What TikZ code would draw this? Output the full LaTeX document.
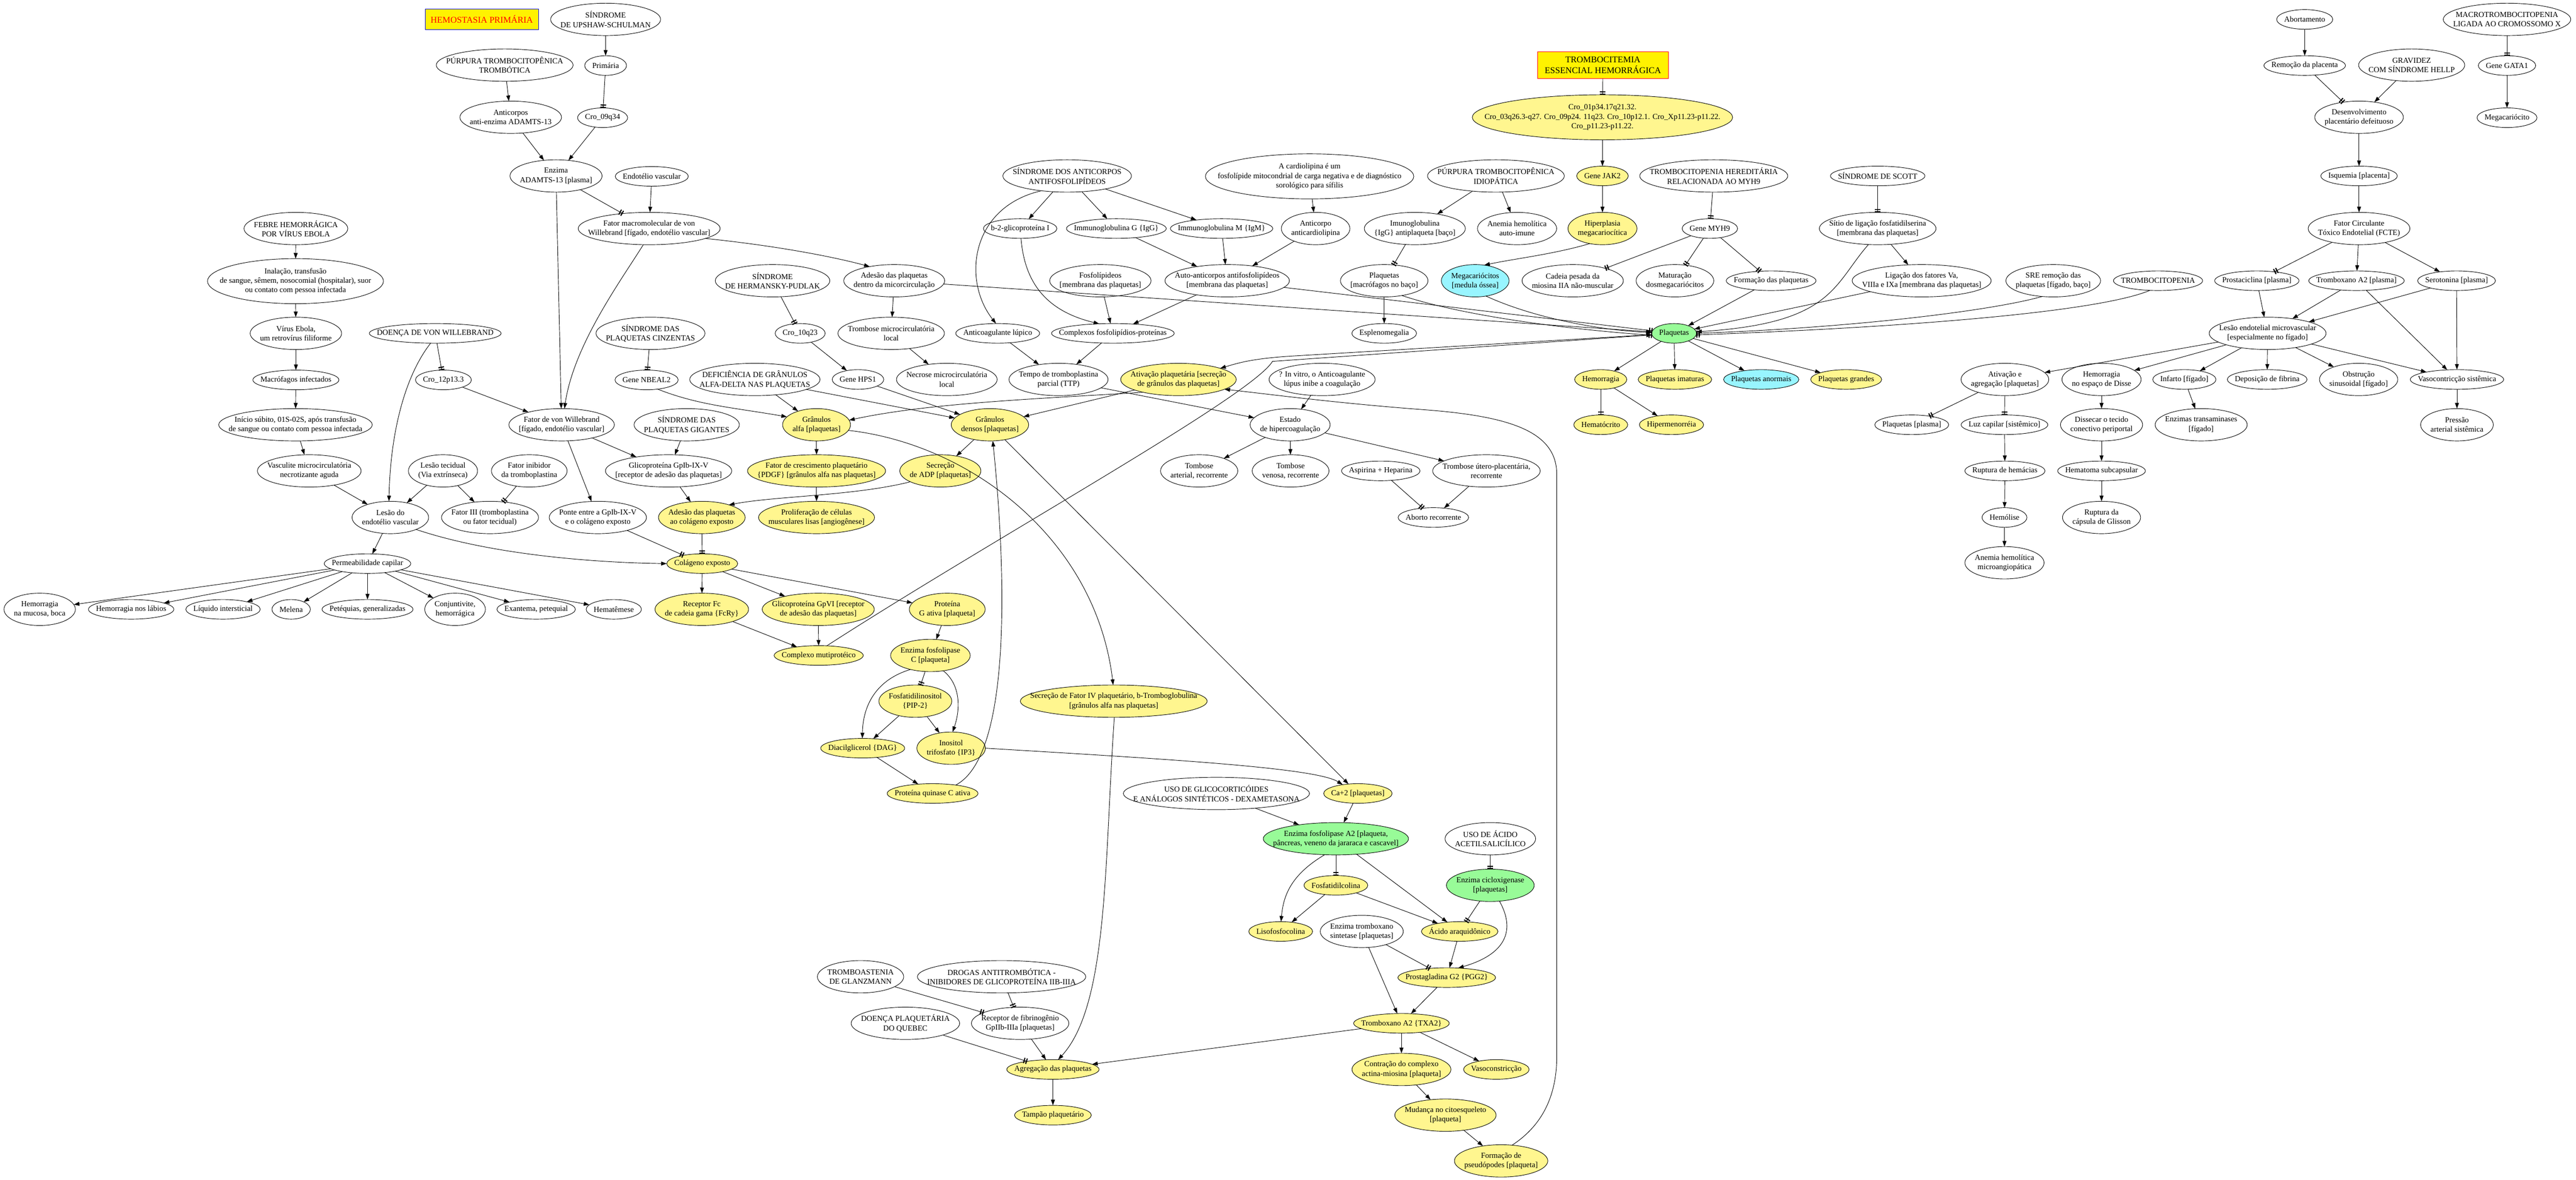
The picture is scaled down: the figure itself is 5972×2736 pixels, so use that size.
\documentclass[tikz,border=0pt]{standalone}
\usepackage{fontspec}
\setmainfont{Liberation Serif}
\usetikzlibrary{shapes.geometric,arrows.meta}
\definecolor{ylw}{HTML}{FFF68F}
\definecolor{grn}{HTML}{98FB98}
\definecolor{cyn}{HTML}{98F5FF}
\newcommand\Nd[4][]{%
  \node[txt] (#2-t) at (#3) {#4};%
  \pgfpointdiff{\pgfpointanchor{#2-t}{south west}}{\pgfpointanchor{#2-t}{north east}}%
  \pgfgetlastxy{\tw}{\th}%
  \pgfmathsetmacro\nlm{max(1,round(\th/21.7))}%
  \node[nd,#1,minimum width={\tw+24pt+11pt*\nlm},minimum height={16pt+29.5pt*\nlm}] (#2) at (#3) {};%
  \node[txt] at (#3) {#4};}
\begin{document}
\begin{tikzpicture}[x=1pt,y=-1pt,
 txt/.style={align=center,inner sep=0pt,outer sep=0pt,font=\fontsize{18}{21.7}\selectfont},
 nd/.style={ellipse,draw,fill=white,line width=1.1pt,inner sep=0pt,outer sep=0pt},
 fy/.style={fill=ylw}, fg/.style={fill=grn}, fc/.style={fill=cyn},
 ar/.style={line width=1.1pt,-{Triangle[length=13pt,width=9pt]}},
 tt/.style={line width=1.1pt,-{Rectangle[length=2.5pt,width=13pt]Rectangle[length=3pt,width=1.1pt]Rectangle[length=2.5pt,width=13pt]}}]
\useasboundingbox[fill=white] (0,0) rectangle (5972,2736);
% ---------- title boxes
\node[draw=blue,fill=yellow,text=red,line width=1.1pt,minimum width=263pt,minimum height=48pt,inner sep=0pt,font=\fontsize{20.6}{24.7}\selectfont] (tit1) at (1117,45) {HEMOSTASIA PRIMÁRIA};
\node[draw=red,fill=yellow,line width=1.1pt,minimum width=303pt,minimum height=62pt,inner sep=0pt,align=center,font=\fontsize{20.6}{24.7}\selectfont] (tit2) at (3716,151) {TROMBOCITEMIA\\ESSENCIAL HEMORRÁGICA};
% ---------- left part
\Nd{ups}{1404,45}{SÍNDROME\\DE UPSHAW-SCHULMAN}
\Nd{ptt}{1170,151}{PÚRPURA TROMBOCITOPÊNICA\\TROMBÓTICA}
\Nd{prim}{1404,152}{Primária}
\Nd{antic}{1184,272}{Anticorpos\\anti-enzima ADAMTS-13}
\Nd{c09}{1397,273}{Cro\_09q34}
\Nd{adam}{1289,408}{Enzima\\ADAMTS-13 [plasma]}
\Nd{endv}{1511,409}{Endotélio vascular}
\Nd{fmac}{1505,530}{Fator macromolecular de von\\Willebrand [fígado, endotélio vascular]}
\Nd{febre}{686,530}{FEBRE HEMORRÁGICA\\POR VÍRUS EBOLA}
\Nd{inal}{685,652}{Inalação, transfusão\\de sangue, sêmem, nosocomial (hospitalar), suor\\ou contato com pessoa infectada}
\Nd{virus}{686,773}{Vírus Ebola,\\um retrovírus filiforme}
\Nd{dvw}{1009,773}{DOENÇA DE VON WILLEBRAND}
\Nd{spc}{1508,773}{SÍNDROME DAS\\PLAQUETAS CINZENTAS}
\Nd{macr}{686,881}{Macrófagos infectados}
\Nd{c12}{1028,881}{Cro\_12p13.3}
\Nd{nbeal}{1499,881}{Gene NBEAL2}
\Nd{inic}{685,985}{Início súbito, 01S-02S, após transfusão\\de sangue ou contato com pessoa infectada}
\Nd{fvw}{1302,985}{Fator de von Willebrand\\{}[fígado, endotélio vascular]}
\Nd{spg}{1592,985}{SÍNDROME DAS\\PLAQUETAS GIGANTES}
\Nd{vasc}{717,1092}{Vasculite microcirculatória\\necrotizante aguda}
\Nd{lest}{1027,1092}{Lesão tecidual\\(Via extrínseca)}
\Nd{finib}{1227,1092}{Fator inibidor\\da tromboplastina}
\Nd{gpib}{1550,1092}{Glicoproteína GpIb-IX-V\\{}[receptor de adesão das plaquetas]}
\Nd{lesend}{905,1200}{Lesão do\\endotélio vascular}
\Nd{f3}{1136,1200}{Fator III (tromboplastina\\ou fator tecidual)}
\Nd{ponte}{1386,1200}{Ponte entre a GpIb-IX-V\\e o colágeno exposto}
\Nd[fy]{adcol}{1627,1200}{Adesão das plaquetas\\ao colágeno exposto}
\Nd[fy]{prolif}{1893,1200}{Proliferação de células\\musculares lisas [angiogênese]}
\Nd{perm}{852,1307}{Permeabilidade capilar}
\Nd[fy]{colag}{1628,1307}{Colágeno exposto}
\Nd{hmuc}{92,1413}{Hemorragia\\na mucosa, boca}
\Nd{hlab}{304,1413}{Hemorragia nos lábios}
\Nd{liq}{517,1413}{Líquido intersticial}
\Nd{mel}{675,1413}{Melena}
\Nd{pet}{852,1413}{Petéquias, generalizadas}
\Nd{conj}{1055,1413}{Conjuntivite,\\hemorrágica}
\Nd{exan}{1243,1413}{Exantema, petequial}
\Nd{hemat}{1423,1413}{Hematêmese}
\Nd[fy]{recfc}{1627,1413}{Receptor Fc\\de cadeia gama \{FcRy\}}
\Nd[fy]{gpvi}{1897,1413}{Glicoproteína GpVI [receptor\\de adesão das plaquetas]}
\Nd[fy]{protg}{2196,1413}{Proteína\\G ativa [plaqueta]}
\Nd[fy]{compl}{1898,1520}{Complexo mutiprotéico}
\Nd[fy]{plc}{2157,1520}{Enzima fosfolipase\\C [plaqueta]}
\Nd[fy]{pip}{2122,1626}{Fosfatidilinositol\\\{PIP-2\}}
\Nd[fy]{sf4}{2582,1626}{Secreção de Fator IV plaquetário, b-Tromboglobulina\\{}[grânulos alfa nas plaquetas]}
\Nd[fy]{dag}{2000,1735}{Diacilglicerol \{DAG\}}
\Nd[fy]{ip3}{2205,1735}{Inositol\\trifosfato \{IP3\}}
\Nd[fy]{pkc}{2162,1840}{Proteína quinase C ativa}
\Nd{gluc}{2820,1840}{USO DE GLICOCORTICÓIDES\\E ANÁLOGOS SINTÉTICOS - DEXAMETASONA}
\Nd[fy]{ca}{3148,1840}{Ca+2 [plaquetas]}
\Nd[fg]{pla2}{3097,1945}{Enzima fosfolipase A2 [plaqueta,\\pâncreas, veneno da jararaca e cascavel]}
\Nd{aas}{3455,1945}{USO DE ÁCIDO\\ACETILSALICÍLICO}
\Nd[fy]{fcol}{3097,2053}{Fosfatidilcolina}
\Nd[fg]{cox}{3455,2053}{Enzima cicloxigenase\\{}[plaquetas]}
\Nd[fy]{liso}{2969,2160}{Lisofosfocolina}
\Nd{txs}{3157,2160}{Enzima tromboxano\\sintetase [plaquetas]}
\Nd[fy]{aa}{3384,2160}{Ácido araquidônico}
\Nd[fy]{pgg}{3354,2267}{Prostagladina G2 \{PGG2\}}
\Nd{glanz}{1995,2265}{TROMBOASTENIA\\DE GLANZMANN}
\Nd{drog}{2322,2265}{DROGAS ANTITROMBÓTICA -\\INIBIDORES DE GLICOPROTEÍNA IIB-IIIA}
\Nd{queb}{2099,2373}{DOENÇA PLAQUETÁRIA\\DO QUEBEC}
\Nd{recfib}{2365,2373}{Receptor de fibrinogênio\\GpIIb-IIIa [plaquetas]}
\Nd[fy]{txa2}{3249,2373}{Tromboxano A2 \{TXA2\}}
\Nd[fy]{agreg}{2441,2480}{Agregação das plaquetas}
\Nd[fy]{contr}{3249,2480}{Contração do complexo\\actina-miosina [plaqueta]}
\Nd[fy]{vasoc}{3469,2480}{Vasoconstricção}
\Nd[fy]{tamp}{2441,2586}{Tampão plaquetário}
\Nd[fy]{mud}{3351,2586}{Mudança no citoesqueleto\\{}[plaqueta]}
\Nd[fy]{pseud}{3480,2692}{Formação de\\pseudópodes [plaqueta]}
% ---------- middle part
\Nd{saaf}{2474,408}{SÍNDROME DOS ANTICORPOS\\ANTIFOSFOLIPÍDEOS}
\Nd{card}{3036,409}{A cardiolipina é um\\fosfolípide mitocondrial de carga negativa e de diagnóstico\\sorológico para sífilis}
\Nd{b2}{2365,530}{b-2-glicoproteína I}
\Nd{igg}{2588,530}{Immunoglobulina G \{IgG\}}
\Nd{igm}{2832,530}{Immunoglobulina M \{IgM\}}
\Nd{acard}{3050,530}{Anticorpo\\anticardiolipina}
\Nd{herm}{1791,651}{SÍNDROME\\DE HERMANSKY-PUDLAK}
\Nd{admic}{2073,651}{Adesão das plaquetas\\dentro da micorcirculação}
\Nd{fosf}{2551,651}{Fosfolípideos\\{}[membrana das plaquetas]}
\Nd{auto}{2845,651}{Auto-anticorpos antifosfolipídeos\\{}[membrana das plaquetas]}
\Nd{c10}{1855,773}{Cro\_10q23}
\Nd{tmic}{2066,773}{Trombose microcirculatória\\local}
\Nd{alup}{2313,773}{Anticoagulante lúpico}
\Nd{cfp}{2580,773}{Complexos fosfolipídios-proteínas}
\Nd{defic}{1750,880}{DEFICIÊNCIA DE GRÂNULOS\\ALFA-DELTA NAS PLAQUETAS}
\Nd{hps1}{1989,880}{Gene HPS1}
\Nd{necr}{2195,880}{Necrose microcirculatória\\local}
\Nd{ttp}{2454,880}{Tempo de tromboplastina\\parcial (TTP)}
\Nd[fy]{ativ}{2732,880}{Ativação plaquetária [secreção\\de grânulos das plaquetas]}
\Nd{invit}{3065,880}{? In vitro, o Anticoagulante\\lúpus inibe a coagulação}
\Nd[fy]{galfa}{1893,985}{Grânulos\\alfa [plaquetas]}
\Nd[fy]{gdens}{2295,985}{Grânulos\\densos [plaquetas]}
\Nd{estado}{2991,985}{Estado\\de hipercoagulação}
\Nd[fy]{pdgf}{1893,1092}{Fator de crescimento plaquetário\\\{PDGF\} [grânulos alfa nas plaquetas]}
\Nd[fy]{adp}{2180,1092}{Secreção\\de ADP [plaquetas]}
\Nd{tart}{2780,1092}{Tombose\\arterial, recorrente}
\Nd{tven}{2992,1092}{Tombose\\venosa, recorrente}
\Nd{asp}{3201,1092}{Aspirina + Heparina}
\Nd{tutero}{3446,1092}{Trombose útero-placentária,\\recorrente}
\Nd{abrec}{3323,1200}{Aborto recorrente}
% ---------- right-middle part
\Nd[fy]{cro01}{3715,272}{Cro\_01p34.17q21.32.\\Cro\_03q26.3-q27. Cro\_09p24. 11q23. Cro\_10p12.1. Cro\_Xp11.23-p11.22.\\Cro\_p11.23-p11.22.}
\Nd{pti}{3468,408}{PÚRPURA TROMBOCITOPÊNICA\\IDIOPÁTICA}
\Nd[fy]{jak2}{3715,408}{Gene JAK2}
\Nd{myh9h}{3973,408}{TROMBOCITOPENIA HEREDITÁRIA\\RELACIONADA AO MYH9}
\Nd{scott}{4353,408}{SÍNDROME DE SCOTT}
\Nd{imig}{3280,530}{Imunoglobulina\\\{IgG\} antiplaqueta [baço]}
\Nd{anem}{3517,530}{Anemia hemolítica\\auto-imune}
\Nd[fy]{hiper}{3715,530}{Hiperplasia\\megacariocítica}
\Nd{myh9}{3964,530}{Gene MYH9}
\Nd{sitio}{4353,530}{Sítio de ligação fosfatidilserina\\{}[membrana das plaquetas]}
\Nd{plmac}{3209,651}{Plaquetas\\{}[macrófagos no baço]}
\Nd[fc]{mega}{3420,651}{Megacariócitos\\{}[medula óssea]}
\Nd{cadeia}{3646,651}{Cadeia pesada da\\miosina IIA não-muscular}
\Nd{matur}{3883,651}{Maturação\\dosmegacariócitos}
\Nd{formp}{4106,651}{Formação das plaquetas}
\Nd{ligf}{4455,651}{Ligação dos fatores Va,\\VIIIa e IXa [membrana das plaquetas]}
\Nd{sre}{4760,651}{SRE remoção das\\plaquetas [fígado, baço]}
\Nd{tcp}{5003,651}{TROMBOCITOPENIA}
\Nd{prost}{5232,651}{Prostaciclina [plasma]}
\Nd{txpl}{5463,651}{Tromboxano A2 [plasma]}
\Nd{sero}{5695,651}{Serotonina [plasma]}
\Nd{espl}{3209,773}{Esplenomegalia}
\Nd[fg]{plaq}{3881,773}{Plaquetas}
\Nd{lesmv}{5257,773}{Lesão endotelial microvascular\\{}[especialmente no fígado]}
\Nd[fy]{hemo}{3711,880}{Hemorragia}
\Nd[fy]{plim}{3883,880}{Plaquetas imaturas}
\Nd[fc]{plan}{4083,880}{Plaquetas anormais}
\Nd[fy]{plgr}{4280,880}{Plaquetas grandes}
\Nd{atag}{4648,880}{Ativação e\\agregação [plaquetas]}
\Nd{hdis}{4872,880}{Hemorragia\\no espaço de Disse}
\Nd{infa}{5064,880}{Infarto [fígado]}
\Nd{depf}{5256,880}{Deposição de fibrina}
\Nd{obst}{5468,880}{Obstrução\\sinusoidal [fígado]}
\Nd{vsis}{5696,880}{Vasocontricção sistêmica}
\Nd[fy]{hct}{3711,985}{Hematócrito}
\Nd[fy]{hipm}{3875,985}{Hipermenorréia}
\Nd{plpl}{4432,985}{Plaquetas [plasma]}
\Nd{luz}{4647,985}{Luz capilar [sistêmico]}
\Nd{diss}{4872,985}{Dissecar o tecido\\conectivo periportal}
\Nd{enzt}{5103,985}{Enzimas transaminases\\{}[fígado]}
\Nd{pres}{5696,985}{Pressão\\arterial sistêmica}
\Nd{rupt}{4648,1092}{Ruptura de hemácias}
\Nd{hemat2}{4872,1092}{Hematoma subcapsular}
\Nd{hemol}{4647,1200}{Hemólise}
\Nd{rcap}{4872,1200}{Ruptura da\\cápsula de Glisson}
\Nd{anmic}{4647,1305}{Anemia hemolítica\\microangiopática}
% ---------- far right
\Nd{abort}{5343,45}{Abortamento}
\Nd{macro}{5812,45}{MACROTROMBOCITOPENIA\\LIGADA AO CROMOSSOMO X}
\Nd{remoc}{5343,152}{Remoção da placenta}
\Nd{grav}{5591,151}{GRAVIDEZ\\COM SÍNDROME HELLP}
\Nd{gata}{5812,152}{Gene GATA1}
\Nd{desenv}{5469,272}{Desenvolvimento\\placentário defeituoso}
\Nd{megac}{5812,273}{Megacariócito}
\Nd{isq}{5469,408}{Isquemia [placenta]}
\Nd{fcte}{5469,530}{Fator Circulante\\Tóxico Endotelial (FCTE)}
% ================= edges
\draw[ar] (ups) -- (prim);
\draw[tt] (prim) -- (c09);
\draw[ar] (ptt) -- (antic);
\draw[ar] (antic) -- (adam);
\draw[ar] (c09) -- (adam);
\draw[tt] (adam) -- (fmac);
\draw[ar] (adam) -- (fvw);
\draw[ar] (endv) -- (fmac);
\draw[ar] (fmac.250) .. controls (1440,650) and (1330,800) .. (fvw.80);
\draw[ar] (fmac.-10) .. controls (1800,570) and (1930,595) .. (admic.150);
\draw[ar] (febre) -- (inal);
\draw[ar] (inal) -- (virus);
\draw[ar] (virus) -- (macr);
\draw[ar] (macr) -- (inic);
\draw[ar] (inic) -- (vasc);
\draw[ar] (vasc) -- (lesend);
\draw[ar] (dvw.245) .. controls (940,870) and (905,1000) .. (lesend.95);
\draw[tt] (dvw) -- (c12);
\draw[ar] (c12) -- (fvw);
\draw[ar] (lest) -- (lesend);
\draw[ar] (lest) -- (f3);
\draw[tt] (finib) -- (f3);
\draw[ar] (fvw) -- (ponte);
\draw[ar] (fvw) -- (gpib);
\draw[ar] (spg) -- (gpib);
\draw[ar] (gpib) -- (adcol);
\draw[tt] (ponte) -- (colag);
\draw[ar] (lesend.-25) .. controls (1150,1290) and (1400,1305) .. (colag.west);
\draw[tt] (adcol) -- (colag);
\draw[ar] (lesend) -- (perm);
\foreach \t in {hmuc,hlab,liq,mel,pet,conj,exan,hemat} \draw[ar] (perm) -- (\t);
\draw[tt] (spc) -- (nbeal);
\draw[ar] (nbeal.-40) .. controls (1620,940) and (1700,945) .. (galfa.165);
\draw[ar] (defic) -- (galfa);
\draw[ar] (defic) -- (gdens);
\draw[tt] (herm) -- (c10);
\draw[ar] (c10) -- (hps1);
\draw[ar] (hps1) -- (gdens);
\draw[ar] (admic) -- (plaq);
\draw[ar] (admic) -- (tmic);
\draw[ar] (tmic) -- (necr);
\draw[tt] (auto) -- (plaq);
\draw[ar] (compl.50) .. controls (2300,1250) and (2900,920) .. (2950,838) -- (plaq);
\draw[ar] (plaq) -- (2990,826) .. controls (2900,832) and (2870,842) .. (ativ.15);
\draw[ar] (pseud.55) .. controls (3560,2620) and (3609,2560) .. (3609,2450) -- (3609,1100) .. controls (3609,1000) and (3500,965) .. (3300,950) .. controls (3100,935) and (2950,915) .. (ativ.-12);
\draw[ar] (ativ.200) .. controls (2400,925) and (2150,935) .. (galfa.8);
\draw[ar] (ativ) -- (gdens);
\draw[ar] (galfa) -- (pdgf);
\draw[ar] (pdgf) -- (prolif);
\draw[ar] (galfa.-10) .. controls (2250,1030) and (2540,1250) .. (sf4.92);
\draw[ar] (gdens) -- (adp);
\draw[ar] (adp.200) .. controls (1980,1150) and (1800,1150) .. (adcol.25);
\draw[ar] (gdens) -- (ca);
\draw[ar] (pkc.20) .. controls (2350,1750) and (2330,1300) .. (gdens.-80);
\draw[ar] (colag) -- (recfc);
\draw[ar] (colag) -- (gpvi);
\draw[ar] (colag) -- (protg);
\draw[ar] (recfc) -- (compl);
\draw[ar] (gpvi) -- (compl);
\draw[ar] (protg) -- (plc);
\draw[tt] (plc) -- (pip);
\draw[ar] (plc.215) .. controls (2020,1580) and (2000,1650) .. (dag.92);
\draw[ar] (plc.-50) .. controls (2230,1590) and (2225,1650) .. (ip3.85);
\draw[ar] (pip) -- (dag);
\draw[ar] (pip) -- (ip3);
\draw[ar] (dag) -- (pkc);
\draw[ar] (ip3.east) .. controls (2700,1760) and (3050,1780) .. (ca.150);
\draw[ar] (sf4.-88) .. controls (2560,2000) and (2570,2330) .. (agreg.62);
\draw[ar] (gluc) -- (pla2);
\draw[ar] (ca) -- (pla2);
\draw[tt] (pla2) -- (fcol);
\draw[ar] (pla2.235) .. controls (2990,2030) and (2975,2080) .. (liso.88);
\draw[ar] (pla2) -- (aa);
\draw[ar] (fcol) -- (liso);
\draw[ar] (fcol) -- (aa);
\draw[tt] (aas) -- (cox);
\draw[tt] (cox) -- (aa);
\draw[ar] (cox.-60) .. controls (3510,2150) and (3500,2210) .. (pgg.40);
\draw[ar] (aa) -- (pgg);
\draw[tt] (txs) -- (pgg);
\draw[ar] (txs) -- (txa2);
\draw[ar] (pgg) -- (txa2);
\draw[ar] (txa2) -- (agreg);
\draw[ar] (txa2) -- (contr);
\draw[ar] (txa2) -- (vasoc);
\draw[ar] (contr) -- (mud);
\draw[ar] (mud) -- (pseud);
\draw[tt] (glanz) -- (recfib);
\draw[tt] (drog) -- (recfib);
\draw[tt] (queb) -- (agreg);
\draw[ar] (recfib) -- (agreg);
\draw[ar] (agreg) -- (tamp);
% middle
\draw[ar] (saaf) -- (b2);
\draw[ar] (saaf) -- (igg);
\draw[ar] (saaf) -- (igm);
\draw[ar] (saaf.210) .. controls (2250,480) and (2230,650) .. (alup.100);
\draw[ar] (b2.-85) .. controls (2375,650) and (2420,720) .. (cfp.145);
\draw[ar] (igg) -- (auto);
\draw[ar] (igm) -- (auto);
\draw[ar] (acard) -- (auto);
\draw[ar] (card) -- (acard);
\draw[ar] (fosf) -- (cfp);
\draw[ar] (auto) -- (cfp);
\draw[ar] (alup) -- (ttp);
\draw[ar] (cfp) -- (ttp);
\draw[ar] (ttp) -- (estado);
\draw[ar] (invit) -- (estado);
\draw[ar] (estado) -- (tart);
\draw[ar] (estado) -- (tven);
\draw[ar] (estado) -- (tutero);
\draw[tt] (asp) -- (abrec);
\draw[ar] (tutero) -- (abrec);
% right-middle
\draw[tt] (tit2) -- (cro01);
\draw[ar] (cro01) -- (jak2);
\draw[ar] (jak2) -- (hiper);
\draw[ar] (hiper.230) .. controls (3600,590) and (3510,600) .. (mega.60);
\draw[ar] (pti) -- (imig);
\draw[ar] (pti) -- (anem);
\draw[tt] (imig) -- (plmac);
\draw[ar] (plmac) -- (espl);
\draw[tt] (plmac.-40) .. controls (3400,735) and (3650,765) .. (plaq.185);
\draw[ar] (mega.-55) .. controls (3550,735) and (3700,765) .. (plaq.178);
\draw[tt] (myh9h) -- (myh9);
\draw[tt] (myh9) -- (cadeia);
\draw[tt] (myh9) -- (matur);
\draw[tt] (myh9) -- (formp);
\draw[ar] (formp) -- (plaq);
\draw[tt] (scott) -- (sitio);
\draw[ar] (sitio) -- (ligf);
\draw[ar] (sitio.-120) .. controls (4250,660) and (4250,750) .. (plaq.4);
\draw[ar] (ligf) -- (plaq);
\draw[tt] (sre.-125) .. controls (4620,720) and (4300,760) .. (plaq.0);
\draw[tt] (tcp.-130) .. controls (4860,725) and (4400,760) .. (plaq.-4);
\draw[ar] (plaq) -- (hemo);
\draw[ar] (plaq) -- (plim);
\draw[ar] (plaq) -- (plan);
\draw[ar] (plaq) -- (plgr);
\draw[tt] (hemo) -- (hct);
\draw[ar] (hemo) -- (hipm);
% far right
\draw[ar] (abort) -- (remoc);
\draw[tt] (remoc) -- (desenv);
\draw[ar] (grav) -- (desenv);
\draw[ar] (desenv) -- (isq);
\draw[ar] (isq) -- (fcte);
\draw[tt] (macro) -- (gata);
\draw[ar] (gata) -- (megac);
\draw[tt] (fcte) -- (prost);
\draw[ar] (fcte) -- (txpl);
\draw[ar] (fcte) -- (sero);
\draw[ar] (prost) -- (lesmv);
\draw[ar] (txpl) -- (lesmv);
\draw[ar] (sero) -- (lesmv);
\draw[ar] (txpl) -- (vsis);
\draw[ar] (sero) -- (vsis);
\foreach \t in {atag,hdis,infa,depf,obst,vsis} \draw[ar] (lesmv) -- (\t);
\draw[tt] (atag) -- (plpl);
\draw[tt] (atag) -- (luz);
\draw[ar] (luz) -- (rupt);
\draw[ar] (rupt) -- (hemol);
\draw[ar] (hemol) -- (anmic);
\draw[ar] (hdis) -- (diss);
\draw[ar] (diss) -- (hemat2);
\draw[ar] (hemat2) -- (rcap);
\draw[ar] (infa) -- (enzt);
\draw[ar] (vsis) -- (pres);
\end{tikzpicture}
\end{document}
